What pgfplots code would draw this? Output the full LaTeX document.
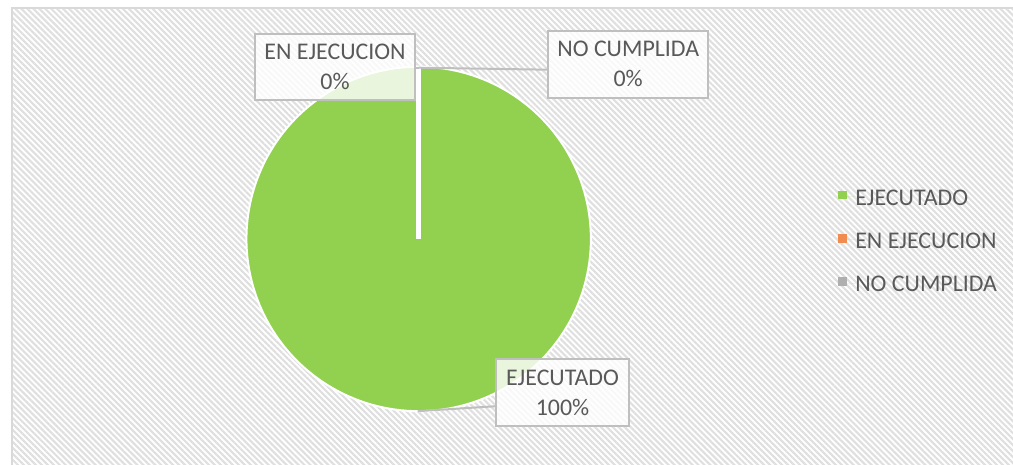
\documentclass[border=0pt]{standalone}
\usepackage{fontspec}
\setmainfont{Carlito}
\usepackage{pgfplots}
\pgfplotsset{compat=1.18}
\usepackage{pgfplotstable}
\usetikzlibrary{patterns.meta}
\definecolor{pieGreen}{RGB}{146,208,80}
\definecolor{txtGray}{RGB}{89,89,89}
\definecolor{boxGray}{RGB}{191,191,191}
\definecolor{frameGray}{RGB}{217,217,217}
\definecolor{legOrange}{RGB}{240,140,80}
\definecolor{legGray}{RGB}{175,175,175}

% slice values (percent)
\pgfplotstableread[col sep=comma]{
cat,value
EJECUTADO,100
EN EJECUCION,0
NO CUMPLIDA,0
}\piedata

\begin{document}
\pgfplotstablegetelem{0}{value}\of\piedata
\pgfmathsetmacro{\angEnd}{90-3.6*\pgfplotsretval}
\begin{tikzpicture}
\begin{axis}[scale only axis, width=506.5pt, height=233.5pt,
  xmin=0, xmax=1013, ymin=0, ymax=467, y dir=reverse, hide axis, clip=false,
  legend style={draw=none, fill=none, inner sep=0pt, at={(axis cs:837,241)}, anchor=west,
    font=\fontsize{12}{14}\selectfont, text=txtGray, row sep=13.2pt,
    nodes={inner sep=0pt, text height=8.6pt, text depth=0pt}},
  legend cell align=left,
  legend image code/.code={\fill[#1, draw=none] (0pt,-1.4pt) rectangle (4.4pt,3.0pt);
    \path[draw=none] (0pt,0pt) -- (8.6pt,0pt);}]
  % background
  \fill[white] (axis cs:8,8) rectangle (axis cs:1013,467);
  \fill[pattern={Lines[angle=-45,distance=2.12pt,line width=1.05pt]}, pattern color=gray!25]
    (axis cs:8,8) rectangle (axis cs:1013,467);
  \draw[frameGray, line width=1pt] (axis cs:8,467) -- (axis cs:8,8) -- (axis cs:1013,8);
  % pie
  \addplot[forget plot, fill=pieGreen, draw=white, line width=1pt, domain=\angEnd:90,
    samples=181, variable=\t] ({416+173*cos(\t)},{240-173*sin(\t)}) -- (axis cs:416,240) -- cycle;
  \draw[white, line width=2.3pt] (axis cs:416,240) -- (axis cs:416,68);
  % leader lines
  \draw[boxGray, line width=1pt] (axis cs:416,68) -- (axis cs:546,70);
  \draw[boxGray, line width=1pt] (axis cs:416,68) -- (axis cs:411,68);
  \draw[boxGray, line width=1pt] (axis cs:415,413) -- (axis cs:494,408);
  % data labels
  \tikzset{lbl/.style={draw=boxGray, line width=1pt, fill=white, fill opacity=0.8, text opacity=1,
    text=txtGray, align=center, font=\fontsize{12}{15}\selectfont, inner sep=0pt}}
  \node[lbl, minimum width=80pt, minimum height=33pt] at (axis cs:332,67) {EN EJECUCION\\0\%};
  \node[lbl, minimum width=80.5pt, minimum height=33.5pt] at (axis cs:626.5,64.5) {NO CUMPLIDA\\0\%};
  \node[lbl, minimum width=66.5pt, minimum height=33.5pt] at (axis cs:560.5,394.5) {EJECUTADO\\100\%};
  % legend
  \addlegendimage{fill=pieGreen}\addlegendentry{EJECUTADO}
  \addlegendimage{fill=legOrange}\addlegendentry{EN EJECUCION}
  \addlegendimage{fill=legGray}\addlegendentry{NO CUMPLIDA}
\end{axis}
\pgfresetboundingbox
\path[use as bounding box] (current axis.south west) rectangle (current axis.north east);
\end{tikzpicture}
\end{document}
